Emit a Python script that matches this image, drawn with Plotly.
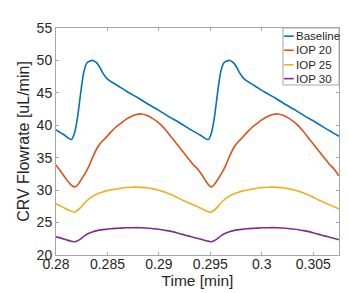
import plotly.graph_objects as go

# ---- data ----
t_base = [0.2800, 0.2808, 0.2815, 0.2818, 0.2821, 0.2824, 0.2827, 0.2830, 0.2833, 0.2836,
          0.2839, 0.2842, 0.2845, 0.2848, 0.2851, 0.2860, 0.2870, 0.2880, 0.2890, 0.2900,
          0.2910, 0.2920, 0.2930, 0.2940, 0.2948, 0.2951, 0.2954, 0.2957, 0.2960, 0.2963,
          0.2966, 0.2969, 0.2972, 0.2975, 0.2978, 0.2981, 0.2984, 0.2993, 0.3003, 0.3013,
          0.3023, 0.3033, 0.3043, 0.3053, 0.3063, 0.3073, 0.3075]
baseline = [39.3, 38.5, 37.8, 38.8, 41.3, 45.0, 48.2, 49.6, 49.9, 50.0,
            49.7, 49.1, 48.2, 47.5, 47.0, 46.1, 45.1, 44.2, 43.2, 42.3,
            41.3, 40.4, 39.4, 38.5, 37.8, 38.8, 41.3, 45.0, 48.2, 49.6,
            49.9, 50.0, 49.7, 49.1, 48.2, 47.5, 47.0, 46.1, 45.1, 44.2,
            43.2, 42.3, 41.3, 40.4, 39.4, 38.5, 38.3]

t_iop = [0.2800, 0.2805, 0.2810, 0.2814,
         0.2818, 0.2821, 0.2824, 0.2828, 0.2832, 0.2836, 0.2840, 0.2844, 0.2848, 0.2853,
         0.2858, 0.2863, 0.2868, 0.2873, 0.2878, 0.2883, 0.2888, 0.2893, 0.2898, 0.2903,
         0.2908, 0.2913, 0.2918, 0.2923, 0.2928, 0.2933, 0.2938, 0.2942, 0.2946, 0.2949,
         0.29506,
         0.29536, 0.29566, 0.29606, 0.29646, 0.29686, 0.29726, 0.29766, 0.29806, 0.29856,
         0.29906, 0.29956, 0.30006, 0.30056, 0.30106, 0.30156, 0.30206, 0.30256, 0.30306,
         0.30356, 0.30406, 0.30456, 0.30506, 0.30556, 0.30606, 0.30656, 0.30706, 0.30746,
         0.3075]
iop20 = [33.9, 32.8, 31.7, 30.9,
         30.5, 30.8, 31.5, 32.5, 33.7, 35.2, 36.5, 37.4, 38.0, 38.9,
         39.7, 40.3, 40.9, 41.35, 41.65, 41.75, 41.55, 41.15, 40.6, 39.9,
         39.0, 38.0, 37.0, 36.0, 35.0, 34.0, 33.2, 32.3, 31.3, 30.7,
         30.5,
         30.8, 31.5, 32.5, 33.7, 35.2, 36.5, 37.4, 38.0, 38.9,
         39.7, 40.3, 40.9, 41.35, 41.65, 41.75, 41.55, 41.15, 40.6,
         39.9, 39.0, 38.0, 37.0, 36.0, 35.0, 34.0, 33.2, 32.3,
         32.2]
iop25 = [27.9, 27.5, 27.1, 26.8,
         26.6, 26.9, 27.35, 28.05, 28.65, 29.1, 29.42, 29.65, 29.85, 30.03,
         30.15, 30.3, 30.4, 30.44, 30.46, 30.43, 30.37, 30.23, 30.05, 29.85,
         29.55, 29.25, 28.85, 28.45, 28.1, 27.75, 27.4, 27.1, 26.8, 26.65,
         26.6,
         26.9, 27.35, 28.05, 28.65, 29.1, 29.42, 29.65, 29.85, 30.03,
         30.15, 30.3, 30.4, 30.44, 30.46, 30.43, 30.37, 30.23, 30.05,
         29.85, 29.55, 29.25, 28.85, 28.45, 28.1, 27.75, 27.4, 27.15,
         27.1]
iop30 = [22.8, 22.6, 22.35, 22.15,
         22.05, 22.2, 22.5, 22.98, 23.35, 23.6, 23.76, 23.87, 23.95, 24.04,
         24.1, 24.15, 24.19, 24.21, 24.22, 24.2, 24.16, 24.09, 24.0, 23.9,
         23.76, 23.6, 23.4, 23.18, 22.95, 22.75, 22.55, 22.38, 22.2, 22.1,
         22.05,
         22.2, 22.5, 22.98, 23.35, 23.6, 23.76, 23.87, 23.95, 24.04,
         24.1, 24.15, 24.19, 24.21, 24.22, 24.2, 24.16, 24.09, 24.0,
         23.9, 23.76, 23.6, 23.4, 23.18, 22.95, 22.75, 22.55, 22.38,
         22.37]

series_names = ["Baseline", "IOP 20", "IOP 25", "IOP 30"]
colors = ["#0072BD", "#D95319", "#EDB120", "#7E2F8E"]

x_tickvals = [0.28, 0.285, 0.29, 0.295, 0.3, 0.305]
x_ticktext = ["0.28", "0.285", "0.29", "0.295", "0.3", "0.305"]
y_tickvals = [20, 25, 30, 35, 40, 45, 50, 55]

fig = go.Figure()
for name, xs, ys, c in zip(series_names,
                           [t_base, t_iop, t_iop, t_iop],
                           [baseline, iop20, iop25, iop30], colors):
    fig.add_trace(go.Scatter(x=xs, y=ys, mode="lines", name=name, showlegend=False,
                             line=dict(color=c, width=1.6, shape="spline", smoothing=0.7)))

axis_col = "#a6a6a6"
text_col = "#262626"

# compact MATLAB-style legend box in the top-right corner (paper coordinates)
leg_x0, leg_x1, leg_y0, leg_y1 = 0.802, 1.0, 0.749, 1.0
shapes = [dict(type="rect", xref="paper", yref="paper", x0=leg_x0, x1=leg_x1,
               y0=leg_y0, y1=leg_y1, line=dict(color=axis_col, width=1),
               fillcolor="white", layer="above")]
annotations = []
row_y = [0.964, 0.902, 0.838, 0.777]
for name, c, ry in zip(series_names, colors, row_y):
    shapes.append(dict(type="line", xref="paper", yref="paper", x0=0.806, x1=0.840,
                       y0=ry, y1=ry, line=dict(color=c, width=1.6), layer="above"))
    annotations.append(dict(xref="paper", yref="paper", x=0.841, y=ry, text=name,
                            showarrow=False, xanchor="left", yanchor="middle",
                            font=dict(size=11.5, color=text_col)))

fig.update_layout(
    width=349, height=293,
    margin=dict(l=48, r=18, t=20, b=46),
    paper_bgcolor="white", plot_bgcolor="white",
    font=dict(family="Liberation Sans, Arial, sans-serif", color=text_col, size=14),
    showlegend=False,
    shapes=shapes, annotations=annotations,
)
fig.update_xaxes(range=[0.28, 0.3075], tickvals=x_tickvals, ticktext=x_ticktext,
                 ticks="inside", ticklen=3, tickcolor=axis_col,
                 showline=True, linecolor=axis_col, linewidth=1, mirror="ticks",
                 showgrid=False, zeroline=False, tickfont=dict(size=14),
                 ticklabelstandoff=-4,
                 title=dict(text="Time [min]", font=dict(size=15.5), standoff=1))
fig.update_yaxes(range=[20, 55], tickvals=y_tickvals,
                 ticks="inside", ticklen=3, tickcolor=axis_col,
                 showline=True, linecolor=axis_col, linewidth=1, mirror="ticks",
                 showgrid=False, zeroline=False, tickfont=dict(size=14),
                 title=dict(text="CRV Flowrate [uL/min]", font=dict(size=16), standoff=3))

fig.write_html("out.html")
